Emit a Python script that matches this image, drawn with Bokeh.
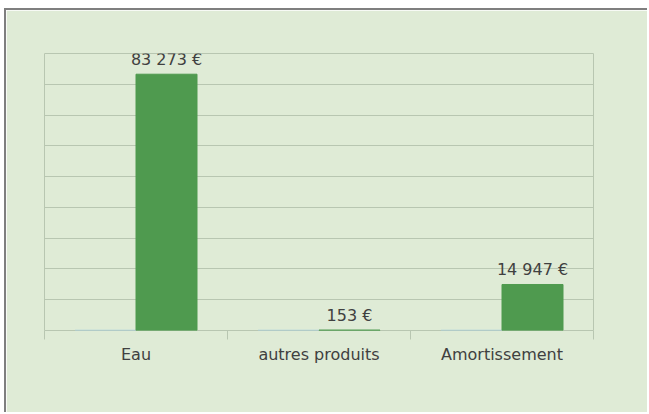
import numpy as np
from bokeh.plotting import figure
from bokeh.models import Range1d, FixedTicker, SingleIntervalTicker, ColumnDataSource
from bokeh.core.properties import value
from bokeh.embed import file_html
from bokeh.resources import INLINE

categories = ["Eau", "autres produits", "Amortissement"]
series_blue = [0, 0, 0]
series_green = [83273, 153, 14947]
green_labels = ["83 273 €", "153 €", "14 947 €"]
y_max = 90000
y_step = 10000

BG = "#dfebd6"
GRID = "#b8c6b1"
GREEN = "#4f9a4f"
BLUE = "#a9cfe0"
TEXT = "#404040"
FONT = "DejaVu Sans"

centers = np.arange(len(categories)) + 0.5
bar_w = 1.0 / 3.0

p = figure(width=643, height=404, output_backend="svg", toolbar_location=None,
           x_range=Range1d(0, len(categories)), y_range=Range1d(0, y_max),
           min_border_left=38, min_border_top=43, min_border_right=56, min_border_bottom=84,
           background_fill_color=BG, border_fill_color=BG,
           styles={"margin-left": "4px", "margin-top": "8px",
                   "border-left": "2px solid #7f7f7f", "border-top": "2px solid #7f7f7f"})

p.outline_line_color = GRID
p.outline_line_width = 1

src_blue = ColumnDataSource(dict(x=centers - bar_w / 2, top=series_blue))
src_green = ColumnDataSource(dict(x=centers + bar_w / 2, top=series_green, lab=green_labels))

p.vbar(x="x", top="top", bottom=0, width=bar_w, source=src_blue,
       fill_color=BLUE, line_color=BLUE, line_width=1.5)
p.vbar(x="x", top="top", bottom=0, width=bar_w, source=src_green,
       fill_color=GREEN, line_color=GREEN, line_width=1)

p.text(x="x", y="top", text="lab", source=src_green, y_offset=-15,
       text_align="center", text_baseline="alphabetic",
       text_font=value(FONT), text_font_size="16px", text_color=TEXT)

# grid
p.xgrid.visible = False
p.ygrid.ticker = SingleIntervalTicker(interval=y_step)
p.ygrid.grid_line_color = GRID
p.ygrid.grid_line_width = 1

p.yaxis.visible = False

xa = p.xaxis[0]
xa.ticker = FixedTicker(ticks=list(centers), minor_ticks=list(range(len(categories) + 1)))
xa.major_label_overrides = {float(c): cat for c, cat in zip(centers, categories)}
xa.axis_line_color = None
xa.major_tick_line_color = None
xa.major_tick_out = 0
xa.major_tick_in = 0
xa.minor_tick_line_color = GRID
xa.minor_tick_out = 9
xa.minor_tick_in = 0
xa.major_label_standoff = 5
xa.major_label_text_font = FONT
xa.major_label_text_font_size = "16px"
xa.major_label_text_color = TEXT

open("out.html", "w").write(file_html(p, INLINE))
